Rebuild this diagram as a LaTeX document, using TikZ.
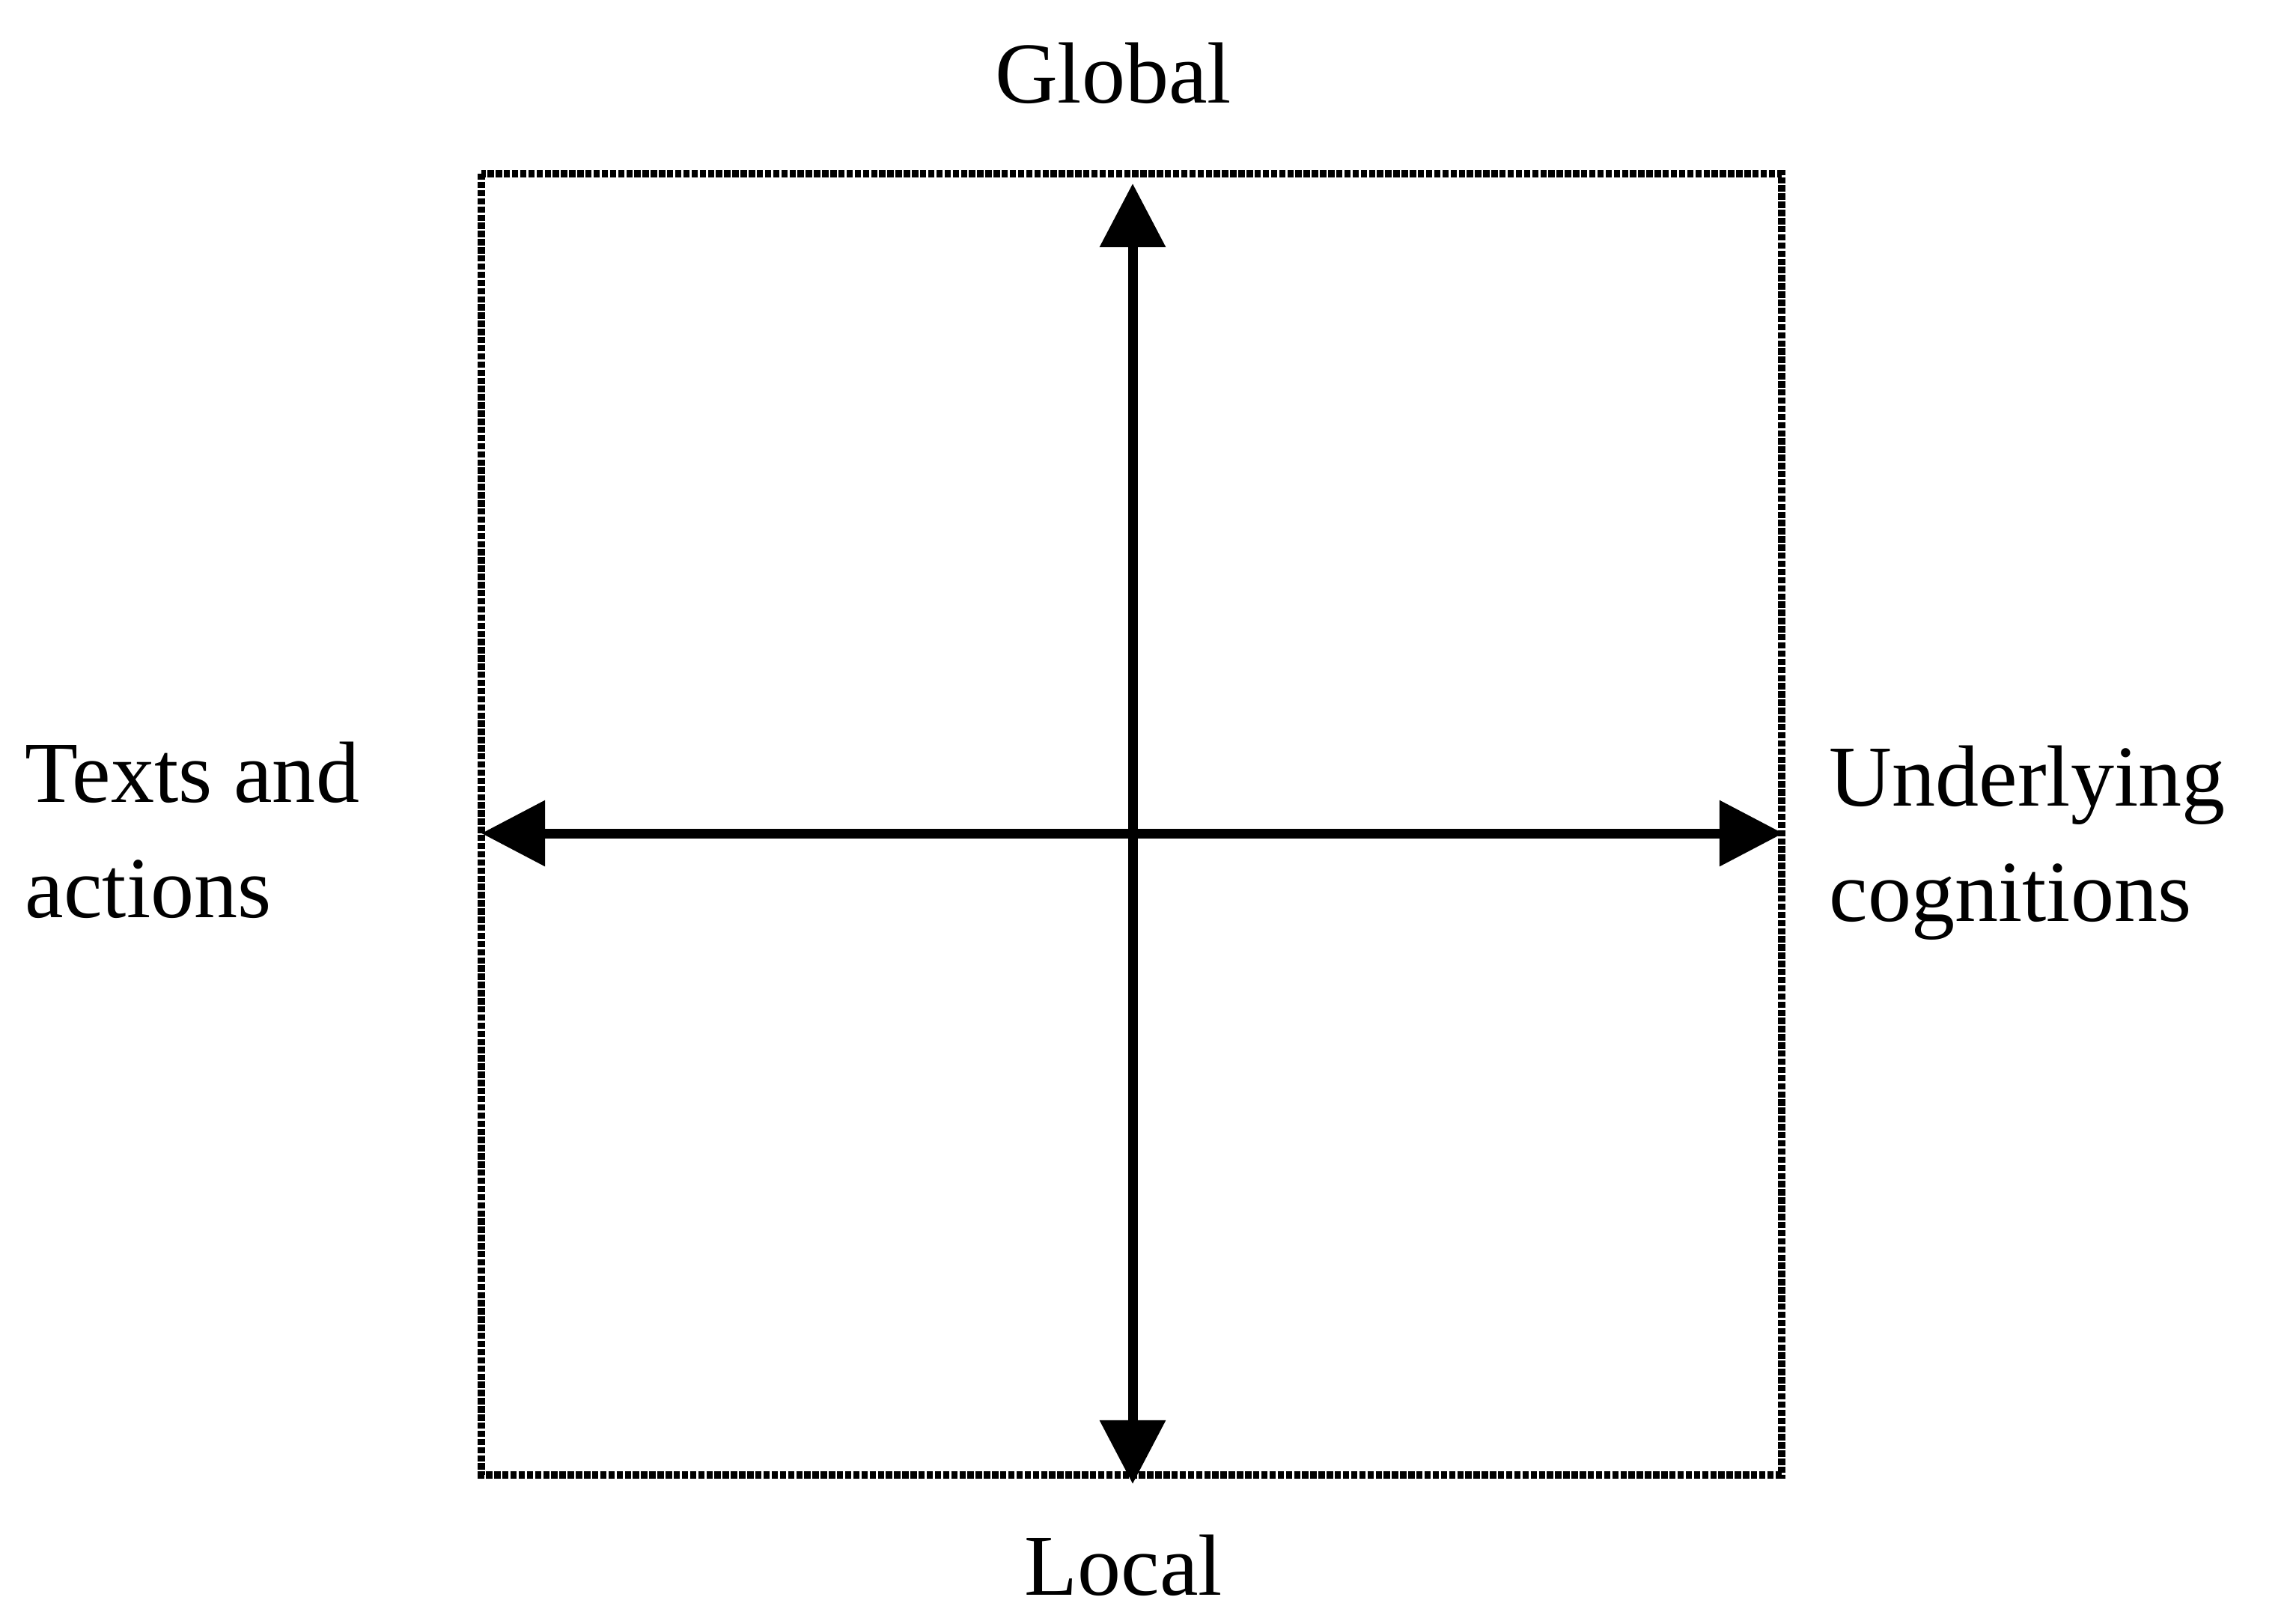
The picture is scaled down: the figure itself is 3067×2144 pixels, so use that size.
\documentclass[tikz,border=0pt]{standalone}
\usepackage{fontspec}
\setmainfont{Liberation Serif}
\usetikzlibrary{arrows.meta}
\begin{document}
\begin{tikzpicture}[x=0.01cm,y=-0.01cm,
 frameline/.style={line width=2.8pt,dash pattern=on 2.4pt off 0.7pt},
 axisline/.style={line width=3.7pt,
  {Triangle[length=0.85cm,width=0.85cm]}-{Triangle[length=0.85cm,width=0.85cm]}},
 lbl/.style={inner sep=0pt,font=\fontsize{33}{44}\selectfont}]%
\useasboundingbox (0,0) rectangle (3067,2144);
% frame
\draw[frameline] (643,232) rectangle (2380,1970);
\coordinate (glob) at (1513,245);
\coordinate (loc) at (1513,1982);
\coordinate (west) at (643,1113);
\coordinate (east) at (2382,1113);
% axes
\draw[axisline] (loc) -- (glob);
\draw[axisline] (west) -- (east);
% labels
\node[lbl,anchor=base] (global) at (1487,137) {Global};
\node[lbl,anchor=base] (local) at (1501,2130) {Local};
\node[lbl,anchor=north west,align=left] (texts) at (33,990) {Texts and\\actions};
\node[lbl,anchor=north west,align=left] (under) at (2443,995) {Underlying\\cognitions};
\end{tikzpicture}
\end{document}
